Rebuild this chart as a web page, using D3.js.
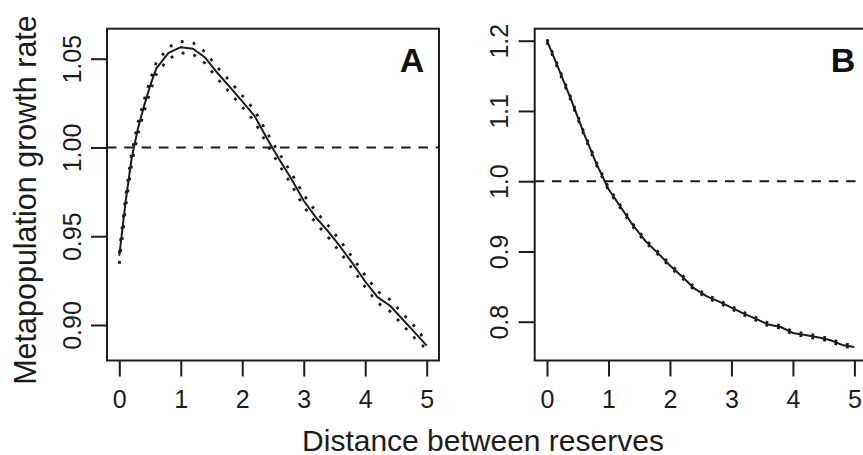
<!DOCTYPE html>
<html>
<head>
<meta charset="utf-8">
<script src="https://cdn.jsdelivr.net/npm/d3@7/dist/d3.min.js"></script>
<style>
  body { margin: 0; background: #fff; }
  svg { display: block; font-family: "Liberation Sans", Arial, Helvetica, sans-serif; }
</style>
</head>
<body>
<div class="chart"></div>
<script>
// ---- data ----
var distanceA = [0, 0.1, 0.2, 0.3, 0.4, 0.5, 0.6, 0.8, 1.0, 1.2, 1.4, 1.6, 1.8, 2.0, 2.2, 2.4,
                 2.6, 2.8, 3.0, 3.2, 3.4, 3.6, 3.8, 4.0, 4.2, 4.4, 4.6, 4.8, 5.0];
var growthA = [0.939, 0.9688, 0.9937, 1.0102, 1.023, 1.0346, 1.0444, 1.0533, 1.0565, 1.0556,
               1.0505, 1.0418, 1.034, 1.026, 1.0178, 1.0052, 0.9934, 0.9822, 0.970, 0.9605,
               0.9526, 0.9438, 0.9344, 0.9245, 0.9157, 0.911, 0.9035, 0.896, 0.8884];
var upperA = [0.9405, 0.9715, 0.9968, 1.0135, 1.0262, 1.0378, 1.0476, 1.0566, 1.0597, 1.0589,
              1.0537, 1.0450, 1.0373, 1.0292, 1.0210, 1.0085, 0.9967, 0.9855, 0.9733, 0.9638,
              0.9559, 0.9471, 0.9377, 0.9278, 0.9190, 0.9143, 0.9068, 0.8993, 0.8905];
var lowerA = [0.9345, 0.9655, 0.9905, 1.0070, 1.0198, 1.0314, 1.0412, 1.0500, 1.0533, 1.0524,
              1.0473, 1.0386, 1.0308, 1.0228, 1.0146, 1.0020, 0.9902, 0.9790, 0.9668, 0.9573,
              0.9494, 0.9406, 0.9312, 0.9213, 0.9125, 0.9078, 0.9003, 0.8928, 0.8862];

var distanceB = [0, 0.2, 0.4, 0.6, 0.8, 1.0, 1.2, 1.4, 1.6, 1.8, 2.0, 2.2, 2.4,
                 2.6, 2.8, 3.0, 3.2, 3.4, 3.6, 3.8, 4.0, 4.2, 4.4, 4.6, 4.8, 5.0];
var growthB = [1.200, 1.1577, 1.1145, 1.068, 1.0257, 0.989, 0.963, 0.937, 0.915, 0.898,
               0.880, 0.864, 0.847, 0.836, 0.8285, 0.820, 0.8115, 0.804, 0.796, 0.7925,
               0.784, 0.781, 0.778, 0.774, 0.767, 0.764];
var upperB = [1.202, 1.1597, 1.1165, 1.070, 1.0277, 0.991, 0.965, 0.939, 0.917, 0.900,
              0.882, 0.866, 0.849, 0.838, 0.8305, 0.822, 0.8135, 0.806, 0.798, 0.7945,
              0.786, 0.783, 0.780, 0.776, 0.769, 0.766];
var lowerB = [1.198, 1.1557, 1.1125, 1.066, 1.0237, 0.987, 0.961, 0.935, 0.913, 0.896,
              0.878, 0.862, 0.845, 0.834, 0.8265, 0.818, 0.8095, 0.802, 0.794, 0.7905,
              0.782, 0.779, 0.776, 0.772, 0.765, 0.762];

var xTicks = [0, 1, 2, 3, 4, 5];
var yTicksA = [0.90, 0.95, 1.00, 1.05];
var yTicksB = [0.8, 0.9, 1.0, 1.1, 1.2];
var refLine = 1.0;

var width = 863, height = 455;
var ink = "#1c1c1c";

var svg = d3.select(".chart").append("svg")
    .attr("width", width)
    .attr("height", height);

var boxTop = 28.7, boxBottom = 360.5, boxWidth = 332;

function drawPanel(opts) {
    var x = d3.scaleLinear().domain([-0.2, 5.2]).range([opts.left, opts.left + boxWidth]);
    var y = d3.scaleLinear().domain(opts.yDomain).range([boxBottom, boxTop]);
    var g = svg.append("g");

    var line = d3.line()
        .x(function(d) { return x(d[0]); })
        .y(function(d) { return y(d[1]); });
    function pts(vals) { return opts.dist.map(function(d, i) { return [d, vals[i]]; }); }

    // reference line at growth rate 1
    g.append("line")
        .attr("x1", x.range()[0]).attr("x2", x.range()[1])
        .attr("y1", y(refLine)).attr("y2", y(refLine))
        .attr("stroke", ink).attr("stroke-width", 2)
        .attr("stroke-dasharray", "9.5,7.8");

    // dotted bounds
    [opts.upper, opts.lower].forEach(function(s) {
        g.append("path")
            .attr("d", line(pts(s)))
            .attr("fill", "none")
            .attr("stroke", ink)
            .attr("stroke-width", 2.8)
            .attr("stroke-dasharray", "2.8,9.2");
    });

    // main curve
    g.append("path")
        .attr("d", line(pts(opts.mid)))
        .attr("fill", "none")
        .attr("stroke", ink)
        .attr("stroke-width", 2)
        .attr("stroke-linejoin", "round");

    // box
    g.append("rect")
        .attr("x", x.range()[0]).attr("y", boxTop)
        .attr("width", boxWidth).attr("height", boxBottom - boxTop)
        .attr("fill", "none").attr("stroke", ink).attr("stroke-width", 2);

    // x axis
    var xa = g.append("g")
        .attr("transform", "translate(0," + boxBottom + ")")
        .call(d3.axisBottom(x).tickValues(xTicks).tickSize(16).tickFormat(d3.format("d")));
    xa.select(".domain").remove();
    xa.selectAll("line").attr("stroke", ink).attr("stroke-width", 2);
    xa.selectAll("text")
        .attr("y", 47.8).attr("dy", null)
        .attr("fill", ink)
        .attr("font-size", 25)
        .attr("font-family", "'Liberation Sans', Arial, sans-serif");

    // y axis, labels turned like R's default
    var ya = g.append("g")
        .attr("transform", "translate(" + x.range()[0] + ",0)")
        .call(d3.axisLeft(y).tickValues(opts.yTicks).tickSize(16).tickFormat(d3.format(opts.fmt)));
    ya.select(".domain").remove();
    ya.selectAll("line").attr("stroke", ink).attr("stroke-width", 2);
    ya.selectAll("text")
        .attr("x", null).attr("dy", null)
        .attr("text-anchor", "middle")
        .attr("transform", "translate(-26.5,0) rotate(-90)")
        .attr("fill", ink)
        .attr("font-size", 25)
        .attr("font-family", "'Liberation Sans', Arial, sans-serif");

    // panel letter
    g.append("text")
        .attr("x", opts.letterX).attr("y", 72)
        .attr("text-anchor", "middle")
        .attr("font-size", 34)
        .attr("font-weight", "bold")
        .attr("fill", "#111")
        .text(opts.letter);
}

drawPanel({left: 107, dist: distanceA, mid: growthA, upper: upperA, lower: lowerA,
           yDomain: [0.88, 1.0669], yTicks: yTicksA, fmt: ".2f", letter: "A", letterX: 412});
drawPanel({left: 534.7, dist: distanceB, mid: growthB, upper: upperB, lower: lowerB,
           yDomain: [0.7448, 1.2171], yTicks: yTicksB, fmt: ".1f", letter: "B", letterX: 843});

// axis titles
svg.append("text")
    .attr("transform", "translate(36,200) rotate(-90)")
    .attr("text-anchor", "middle")
    .attr("fill", ink)
    .attr("font-size", 30.5)
    .text("Metapopulation growth rate");

svg.append("text")
    .attr("x", 483).attr("y", 450.5)
    .attr("text-anchor", "middle")
    .attr("fill", ink)
    .attr("font-size", 30)
    .text("Distance between reserves");
</script>
</body>
</html>
